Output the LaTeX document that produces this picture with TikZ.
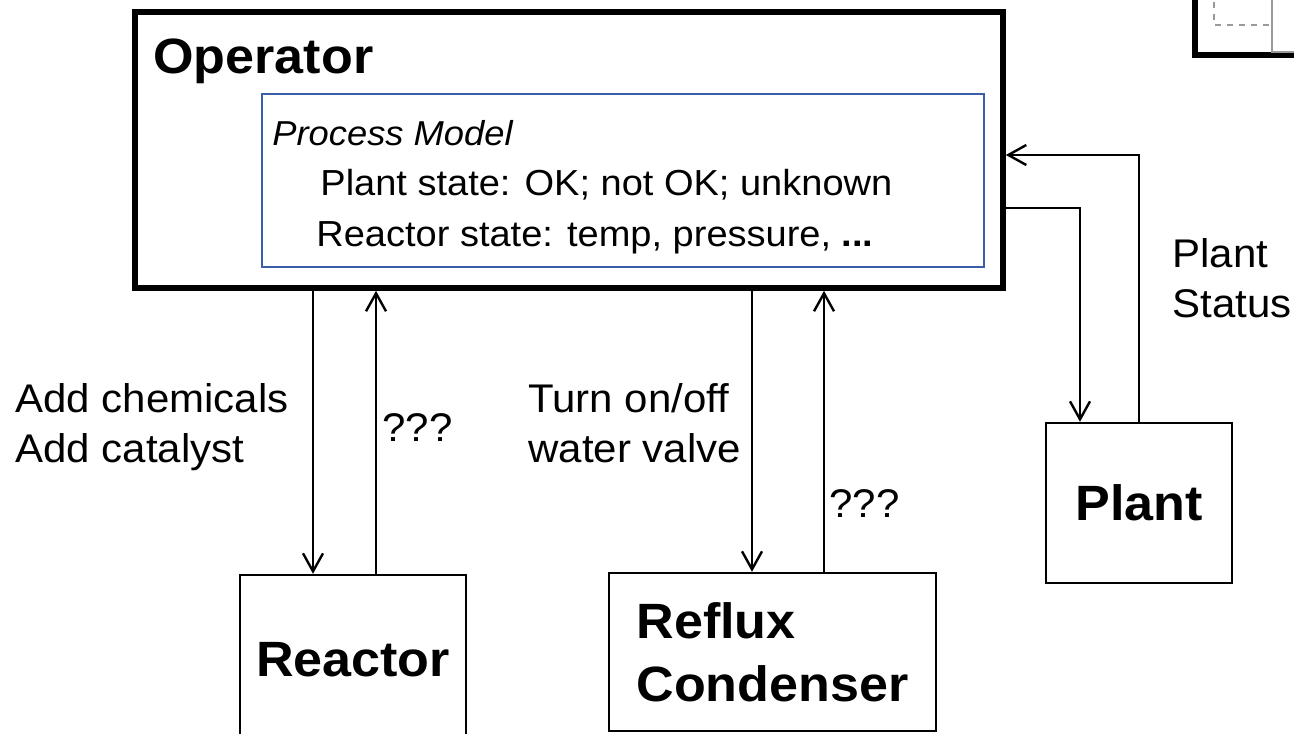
\documentclass[tikz,border=0pt]{standalone}
\usepackage{fontspec}
\setmainfont{Liberation Sans}[FakeStretch=1.05]
\usepackage{tikz}
\usetikzlibrary{arrows.meta}
\definecolor{modelblue}{HTML}{3A5FA8}
\definecolor{slidegray}{HTML}{9A9A9A}

\begin{document}
\begin{tikzpicture}[x=0.5pt,y=-0.5pt,
  unit/.style={rectangle,draw=black,line width=1.2pt,align=left,inner sep=0pt,font=\fontsize{24.8pt}{31.5pt}\selectfont\bfseries},
  lbl/.style={anchor=base west,align=left,inner sep=0pt,font=\fontsize{20pt}{25pt}\selectfont},
  modeltext/.style={anchor=base west,inner sep=0pt,font=\fontsize{18.1pt}{20pt}\selectfont},
  flow/.style={-{Straight Barb[length=9pt,width=10pt]},line width=1.2pt}]
\clip (0,0) rectangle (1294,733);
% corner of the next picture, cut by the slide edge
\draw[line width=3pt] (1195,-20) |- (1320,55);
\draw[slidegray,dashed,line width=0.8pt] (1214,-10) |- (1272,25);
\draw[slidegray,line width=0.8pt] (1272,-10) |- (1320,52);

\node[unit,line width=2.8pt,minimum width=434pt,minimum height=138pt] (operator) at (569,150) {};
\node[anchor=base west,inner sep=0pt,font=\fontsize{24.8pt}{27pt}\selectfont\bfseries] (operatorname) at (153,74) {Operator};
\node[rectangle,draw=modelblue,line width=1pt,minimum width=361pt,minimum height=86.5pt] (model) at (623,180.5) {};
\node[modeltext,font=\fontsize{17.3pt}{20pt}\selectfont\itshape] (modelname) at (272,145) {Process Model};
\node[modeltext] (plantstate) at (320,195) {Plant state: OK; not OK; unknown};
\node[modeltext] (reactorstate) at (316,246) {Reactor state: temp, pressure, \textbf{...}};

\node[unit,minimum width=113pt,minimum height=85pt] (reactor) at (353,660) {Reactor};
\node[unit,minimum width=163.5pt,minimum height=79pt] (condenser) at (772.5,652) {Reflux\\Condenser};
\node[unit,minimum width=93pt,minimum height=80pt] (plant) at (1139,503) {Plant};

\draw[flow] ([xshift=-20pt]reactor.north |- operator.south) -- ([xshift=-20pt]reactor.north);
\draw[flow] ([xshift=11.5pt]reactor.north) -- ([xshift=11.5pt]reactor.north |- operator.south);
\draw[flow] ([xshift=-10.25pt]condenser.north |- operator.south) -- ([xshift=-10.25pt]condenser.north);
\draw[flow] ([xshift=25.75pt]condenser.north) -- ([xshift=25.75pt]condenser.north |- operator.south);
\draw[flow] ([yshift=-29pt]operator.east) -| ([xshift=-29.5pt]plant.north);
\draw[flow] (plant.north) |- ([yshift=-2.5pt]operator.east);

\node[lbl] (reactorcmd) at (15,462) {Add chemicals\\Add catalyst};
\node[lbl] (reactorfb) at (382,441) {???};
\node[lbl] (condensercmd) at (528,462) {Turn on/off\\water valve};
\node[lbl] (condenserfb) at (829,517) {???};
\node[lbl] (plantfb) at (1172,317) {Plant\\Status};
\end{tikzpicture}
\end{document}
